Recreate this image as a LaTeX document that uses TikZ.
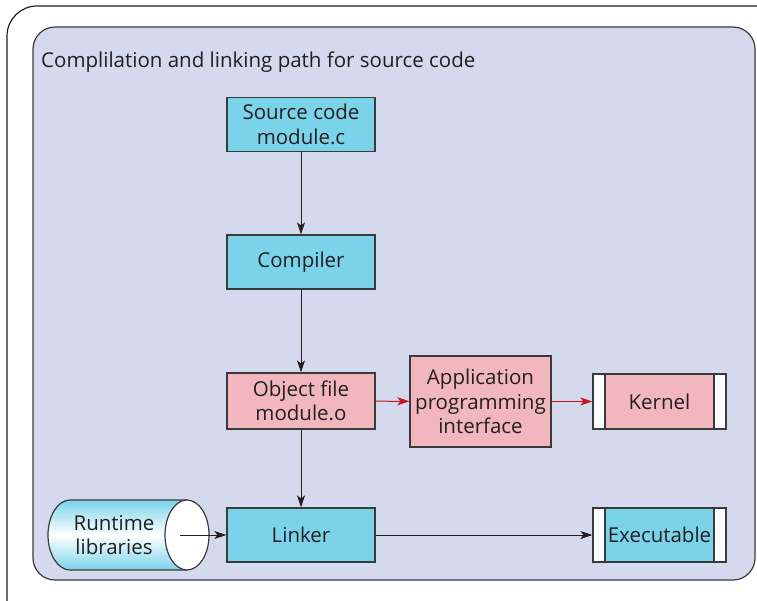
\documentclass[tikz,border=0pt]{standalone}
\usepackage{fontspec}
\setmainfont{Open Sans}
\usetikzlibrary{arrows.meta}
\definecolor{panel}{HTML}{D5D9EE}
\definecolor{cyanfill}{HTML}{7BD3EA}
\definecolor{pinkfill}{HTML}{F2B7BE}
\definecolor{ink}{HTML}{231F20}
\definecolor{redarrow}{HTML}{C8161E}
\definecolor{edge}{HTML}{3A3A3C}
\begin{document}
\begin{tikzpicture}[x=1pt,y=-1pt,
  font=\fontsize{20.5}{24.5}\selectfont, text=ink,
  box/.style={draw=edge, line width=1.2pt, align=center, inner sep=0pt, minimum width=148pt, minimum height=54pt},
  cbox/.style={box, fill=cyanfill},
  pbox/.style={box, fill=pinkfill},
  sbox/.style={draw=edge, line width=1.2pt, fill=white, align=center, inner sep=0pt,
    minimum width=133pt, minimum height=55pt,
    path picture={
      \fill[#1] ([xshift=12pt]path picture bounding box.south west) rectangle ([xshift=-12pt]path picture bounding box.north east);
      \draw[edge, line width=1.2pt] ([xshift=12pt]path picture bounding box.south west) -- ([xshift=12pt]path picture bounding box.north west);
      \draw[edge, line width=1.2pt] ([xshift=-12pt]path picture bounding box.south east) -- ([xshift=-12pt]path picture bounding box.north east);
    }},
  arr/.style={-{Stealth[length=12pt, width=8pt, inset=3pt]}, line width=1pt, draw=ink},
  rarr/.style={-{Stealth[length=12pt, width=8pt, inset=3pt]}, line width=1pt, draw=redarrow}
]
\useasboundingbox (0,0) rectangle (757,600);
\fill[white] (0,0) rectangle (757,600);
\begin{scope}
\clip (0,0) rectangle (757,600);
\draw[ink, line width=1.2pt, rounded corners=30pt] (7,6) rectangle (820,660);
\end{scope}
\draw[edge, line width=1.2pt, fill=panel, rounded corners=22pt] (33,27) rectangle (755,580);

\node[anchor=west, inner sep=0pt] (title) at (41,62.5) {Complilation and linking path for source code};

\node[cbox] (src) at (301,124.5) {Source code\\module.c};
\node[cbox] (comp) at (301,262) {Compiler};
\node[pbox, minimum height=56pt] (obj) at (301,401) {Object file\\module.o};
\node[pbox, minimum width=141pt, minimum height=91pt] (api) at (480.5,401.5) {Application\\programming\\interface};
\node[sbox=pinkfill] (kern) at (659.5,401.5) {Kernel};
\node[cbox] (link) at (301,535) {Linker};
\node[sbox=cyanfill, minimum height=54pt] (exec) at (659.5,535) {Executable};

% cylinder
\shade[top color=cyanfill, bottom color=cyanfill, middle color=white]
  (187,500) -- (70,500) arc[start angle=90, end angle=270, x radius=22pt, y radius=35pt] -- (187,570) -- cycle;
\draw[edge, line width=1.2pt]
  (187,500) -- (70,500) arc[start angle=90, end angle=270, x radius=22pt, y radius=35pt] -- (187,570);
\draw[edge, line width=1.2pt, fill=white] (187,535) ellipse[x radius=22pt, y radius=35pt];
\node[align=center, inner sep=0pt] (rt) at (114,535) {Runtime\\libraries};
\coordinate (rtend) at (180,535);

\draw[arr] (src) -- (comp);
\draw[arr] (comp) -- (obj);
\draw[arr] (obj) -- (link);
\draw[rarr] (obj) -- (api);
\draw[rarr] (api.east |- kern.west) -- (kern);
\draw[arr] (rtend) -- (link);
\draw[arr] (link) -- (exec);
\end{tikzpicture}
\end{document}
